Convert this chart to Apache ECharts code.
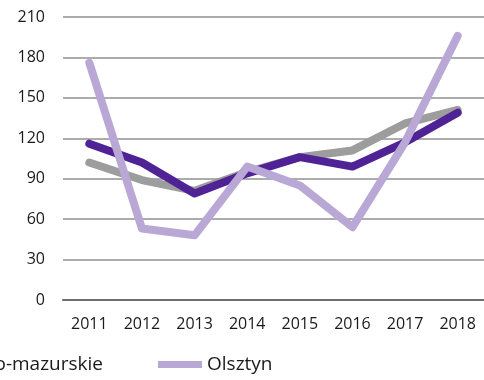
<!DOCTYPE html>
<html>
<head>
<meta charset="utf-8">
<script src="https://cdn.jsdelivr.net/npm/echarts@6/dist/echarts.min.js"></script>
<style>
  html, body { margin: 0; padding: 0; background: #fff; }
  #chart { width: 484px; height: 380px; }
</style>
</head>
<body>
<div id="chart"></div>
<script>
// Years on the category axis
const years = ['2011', '2012', '2013', '2014', '2015', '2016', '2017', '2018'];

// Series values
const polska = [102, 89, 81, 95, 106, 111, 131, 141];
const warminskoMazurskie = [116, 102, 79, 94, 106, 99, 117, 139];
const olsztyn = [176, 53, 48, 99, 85, 54, 117, 196];

// Value axis range
const yMin = 0;
const yMax = 210;
const yStep = 30;

const font = '"Open Sans", "DejaVu Sans", sans-serif';

function lineSeries(name, data, color) {
  return {
    name: name,
    type: 'line',
    data: data,
    symbol: 'none',
    smooth: false,
    lineStyle: { color: color, width: 8, cap: 'round', join: 'round' },
    itemStyle: { color: color },
    emphasis: { disabled: true }
  };
}

const legendBase = {
  orient: 'horizontal',
  top: 355,
  padding: 0,
  itemWidth: 44,
  itemHeight: 7,
  icon: 'rect',
  selectedMode: false,
  textStyle: { fontFamily: font, fontSize: 19, color: '#1a1a1a' }
};

const chart = echarts.init(document.getElementById('chart'), null, { renderer: 'canvas' });
chart.setOption({
  animation: false,
  backgroundColor: '#ffffff',
  grid: { left: 63, right: 0, top: 17, bottom: 80, containLabel: false },
  legend: [
    Object.assign({}, legendBase, { data: ['warmińsko-mazurskie'], right: 381, width: 400 }),
    Object.assign({}, legendBase, { data: ['Olsztyn'], left: 158 })
  ],
  xAxis: {
    type: 'category',
    data: years,
    boundaryGap: true,
    axisLine: { show: true, lineStyle: { color: '#6e6e6e', width: 2 } },
    axisTick: { show: false },
    axisLabel: { fontFamily: font, fontSize: 16, color: '#1a1a1a', margin: 16 }
  },
  yAxis: {
    type: 'value',
    min: yMin,
    max: yMax,
    interval: yStep,
    axisLine: { show: false },
    axisTick: { show: false },
    axisLabel: { fontFamily: font, fontSize: 16, color: '#1a1a1a', margin: 18 },
    splitLine: { show: true, lineStyle: { color: '#909090', width: 1.5 } }
  },
  series: [
    lineSeries('Polska', polska, '#9d9d9d'),
    lineSeries('warmińsko-mazurskie', warminskoMazurskie, '#4f2396'),
    lineSeries('Olsztyn', olsztyn, '#b9a8d6')
  ]
});
</script>
</body>
</html>
